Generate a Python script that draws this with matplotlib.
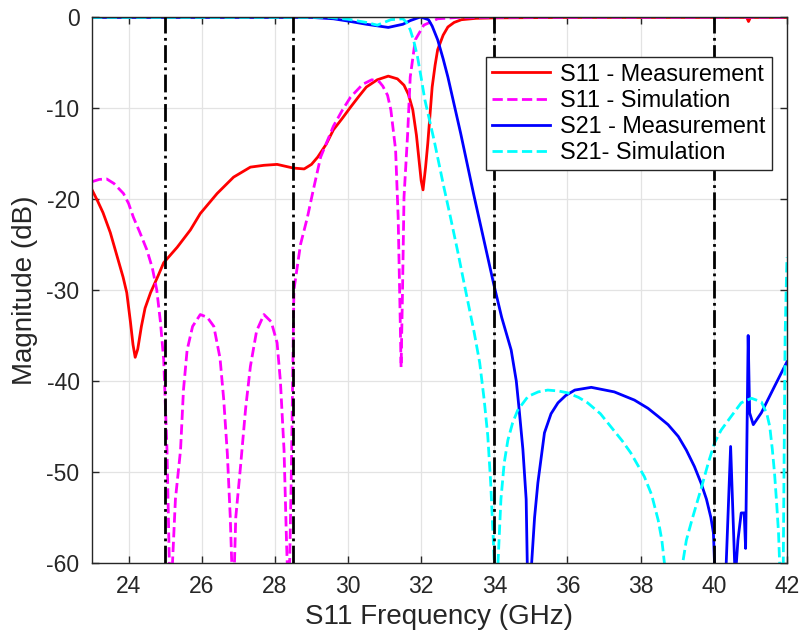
import matplotlib
matplotlib.use("Agg")
import matplotlib.pyplot as plt

plt.rcParams['font.family'] = ['Liberation Sans', 'DejaVu Sans']
plt.rcParams['axes.unicode_minus'] = False

# S11 - Measurement
f_s11_meas = [23.0, 23.15, 23.3, 23.5, 23.7, 23.85, 23.95, 24.05, 24.12, 24.18, 24.25, 24.35,
              24.45, 24.6, 24.8, 24.96, 25.33, 25.69, 25.96, 26.42, 26.87, 27.33, 27.7,
              28.06, 28.5, 28.8, 29.0, 29.17, 29.4, 29.6, 29.85, 30.07, 30.3, 30.5, 30.8,
              31.1, 31.35, 31.53, 31.65, 31.77, 31.87, 31.94, 32.0, 32.05, 32.12, 32.18,
              32.3, 32.38, 32.45, 32.6, 32.73, 32.9, 33.1, 33.5, 34.0, 36.0, 38.0, 40.0,
              40.9, 40.95, 41.0, 42.0]
s11_meas = [-19.0, -20.2, -21.5, -23.7, -26.5, -28.6, -30.3, -33.5, -36.0, -37.4, -36.5, -34.0,
            -32.0, -30.3, -28.5, -27.0, -25.3, -23.4, -21.6, -19.4, -17.6, -16.5, -16.3,
            -16.2, -16.6, -16.7, -16.2, -15.4, -14.0, -12.4, -11.1, -9.9, -8.7, -7.7, -6.9,
            -6.5, -6.8, -7.5, -8.5, -10.2, -13.0, -15.7, -18.0, -19.0, -16.5, -13.9,
            -7.7, -5.3, -3.6, -2.0, -1.1, -0.6, -0.3, -0.15, -0.1, -0.05, -0.05, -0.05,
            -0.05, -0.5, -0.05, -0.05]

# S11 - Simulation
f_s11_sim = [23.0, 23.2, 23.4, 23.6, 23.86, 24.0, 24.13, 24.3, 24.5, 24.65, 24.77, 24.87,
             24.96, 25.05, 25.14, 25.2, 25.28, 25.42, 25.5, 25.6, 25.75, 25.96, 26.15, 26.33,
             26.5, 26.6, 26.7, 26.78, 26.86, 26.93, 27.06, 27.2, 27.33, 27.5, 27.7, 27.9,
             28.06, 28.15, 28.25, 28.32, 28.38, 28.45, 28.52, 28.7, 28.89, 29.05, 29.25,
             29.6, 29.85, 30.07, 30.4, 30.65, 30.85, 30.95, 31.08, 31.17, 31.3, 31.37,
             31.42, 31.45, 31.49, 31.53, 31.63, 31.7, 31.84, 32.07, 32.45, 33.0, 42.0]
s11_sim = [-18.1, -17.85, -17.8, -18.3, -19.4, -20.5, -22.0, -23.6, -25.6, -27.6, -30.0, -33.5,
           -37.7, -47.6, -65.0, -60.0, -53.0, -47.6, -41.0, -36.6, -34.0, -32.7, -33.0, -34.0,
           -37.5, -42.0, -48.0, -55.0, -65.0, -55.0, -49.4, -43.0, -38.4, -34.5, -32.7, -33.5,
           -35.8, -40.0, -47.6, -58.0, -65.0, -50.0, -30.0, -25.0, -22.0, -19.0, -15.4,
           -12.0, -10.2, -8.8, -7.4, -6.9, -7.1, -7.6, -8.6, -10.2, -14.6, -22.0,
           -32.0, -38.5, -30.0, -19.8, -12.8, -6.6, -2.5, -0.9, -0.2, -0.05, -0.02]

# S21 - Measurement
f_s21_meas = [23.0, 29.0, 29.6, 30.0, 30.5, 31.1, 31.5, 31.7, 31.98, 32.2, 32.3, 32.45,
              32.6, 32.73, 33.08, 33.43, 33.98, 34.2, 34.46, 34.6, 34.68, 34.78, 34.87,
              34.9, 34.96, 35.02, 35.1, 35.19, 35.37, 35.55, 35.74, 35.95, 36.2, 36.65,
              37.28, 37.83, 38.2, 38.48, 38.75, 39.03, 39.25, 39.47, 39.65, 39.8, 39.92,
              39.99, 40.02, 40.15, 40.34, 40.46, 40.57, 40.6, 40.66, 40.75, 40.83, 40.87,
              40.94, 40.98, 41.08, 41.3, 41.66, 42.0]
s21_meas = [-0.05, -0.05, -0.2, -0.45, -0.8, -1.15, -0.8, -0.4, 0.0, -0.3, -1.0, -2.5,
            -4.6, -6.6, -12.8, -19.4, -29.3, -33.0, -36.6, -40.0, -43.2, -47.5, -53.0,
            -60.0, -65.0, -60.0, -55.0, -51.2, -45.7, -43.6, -42.4, -41.6, -41.0, -40.7,
            -41.2, -42.1, -43.0, -43.9, -44.8, -46.1, -47.6, -49.4, -51.2, -53.0, -55.0,
            -56.7, -60.0, -65.0, -60.0, -47.2, -60.0, -61.0, -57.5, -54.5, -54.5, -58.4,
            -35.0, -43.5, -44.8, -43.5, -40.6, -37.9]

# S21 - Simulation
f_s21_sim = [23.0, 29.5, 30.0, 30.5, 30.8, 31.17, 31.5, 31.6, 31.7, 31.8, 31.9, 32.0,
             32.1, 32.35, 32.62, 32.8, 33.0, 33.17, 33.45, 33.6, 33.72, 33.82, 33.9, 34.0,
             34.05, 34.1, 34.18, 34.27, 34.37, 34.5, 34.64, 34.92, 35.2, 35.46, 35.75,
             36.0, 36.3, 36.55, 36.9, 37.18, 37.5, 37.73, 38.1, 38.3, 38.48, 38.58, 38.65,
             38.9, 39.15, 39.25, 39.4, 39.67, 39.85, 40.02, 40.2, 40.4, 40.75, 41.03, 41.3,
             41.45, 41.53, 41.6, 41.66, 41.72, 41.77, 41.8, 41.85, 41.9, 41.95, 42.0]
s21_sim = [-0.05, -0.05, -0.25, -0.6, -0.9, -0.3, -0.2, -0.6, -1.4, -2.7, -4.4, -6.7,
           -9.1, -13.5, -18.7, -22.0, -25.8, -29.2, -34.7, -38.0, -42.0, -46.0, -51.2, -60.0,
           -65.0, -60.0, -53.0, -49.0, -46.5, -44.6, -43.2, -41.7, -41.2, -41.0, -41.1,
           -41.3, -41.8, -42.4, -43.6, -45.0, -46.6, -47.9, -50.5, -52.5, -55.3, -57.5, -60.0,
           -65.0, -60.0, -57.5, -55.3, -51.6, -49.0, -46.8, -45.4, -44.3, -42.4, -41.9, -42.3,
           -43.6, -45.0, -47.5, -50.1, -53.5, -56.7, -60.0, -65.0, -60.0, -35.0, -26.4]

band_edges = [25, 28.5, 34, 40]
x_ticks = [24, 26, 28, 30, 32, 34, 36, 38, 40, 42]
y_ticks = [-60, -50, -40, -30, -20, -10, 0]

text_color = '#262626'

fig = plt.figure(figsize=(8.03, 6.38), dpi=100)
ax = fig.add_axes([0.1146, 0.1176, 0.8654, 0.8558])

ax.plot(f_s11_meas, s11_meas, color='red', lw=2, label='S11 - Measurement')
ax.plot(f_s11_sim, s11_sim, color='magenta', lw=2, ls='--', label='S11 - Simulation')
ax.plot(f_s21_meas, s21_meas, color='blue', lw=2, label='S21 - Measurement')
ax.plot(f_s21_sim, s21_sim, color='cyan', lw=2, ls='--', label='S21- Simulation')

for xv in band_edges:
    ax.plot([xv, xv], [-60, 0], color='black', lw=2, ls='-.', zorder=5)

ax.set_xlim(23, 42)
ax.set_ylim(-60, 0)
ax.set_xticks(x_ticks)
ax.set_yticks(y_ticks)
ax.grid(True, color='#e3e3e3', lw=0.9)
ax.set_axisbelow(True)

ax.tick_params(direction='in', length=5, width=1, colors=text_color, labelsize=16.5,
               top=True, right=True, pad=9)
for sp in ax.spines.values():
    sp.set_color(text_color)
    sp.set_linewidth(1)

ax.set_xlabel('S11 Frequency (GHz)', fontsize=20, color=text_color, labelpad=4)
ax.set_ylabel('Magnitude (dB)', fontsize=20, color=text_color, labelpad=6)

leg = ax.legend(loc='upper right', bbox_to_anchor=(0.978, 0.927), fontsize=16.8,
                fancybox=False, framealpha=1, edgecolor=text_color, handlelength=2.5,
                labelspacing=0.13, borderpad=0.25, handletextpad=0.45, borderaxespad=0)
leg.get_frame().set_linewidth(1)

fig.savefig('out.png', dpi=100)
